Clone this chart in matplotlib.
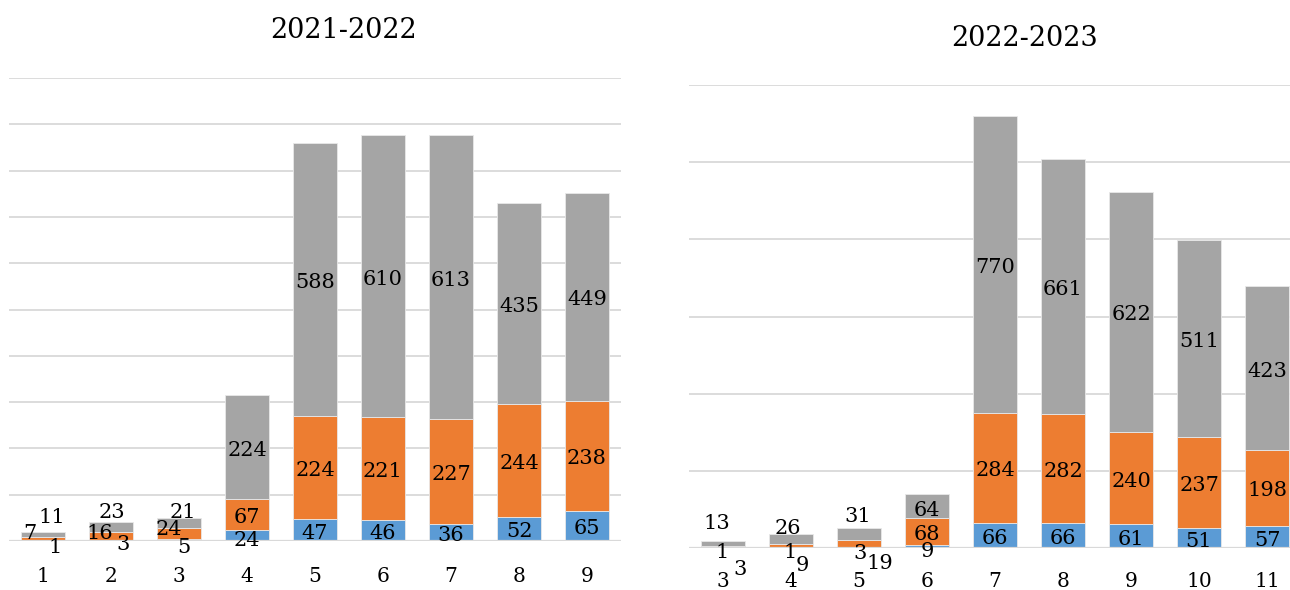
import matplotlib
matplotlib.use("Agg")
import matplotlib.pyplot as plt
import numpy as np

plt.rcParams['font.family'] = ['DejaVu Serif']

# ---- data ----
title_left = "2021-2022"
cats_left = ["1", "2", "3", "4", "5", "6", "7", "8", "9"]
blue_left = [1, 3, 5, 24, 47, 46, 36, 52, 65]
orange_left = [7, 16, 24, 67, 224, 221, 227, 244, 238]
gray_left = [11, 23, 21, 224, 588, 610, 613, 435, 449]

title_right = "2022-2023"
cats_right = ["3", "4", "5", "6", "7", "8", "9", "10", "11"]
blue_right = [1, 1, 3, 9, 66, 66, 61, 51, 57]
orange_right = [3, 9, 19, 68, 284, 282, 240, 237, 198]
gray_right = [13, 26, 31, 64, 770, 661, 622, 511, 423]

BLUE = "#5B9BD5"
ORANGE = "#ED7D31"
GRAY = "#A5A5A5"
GRID = "#D9D9D9"

W, H = 1290, 590
fig = plt.figure(figsize=(W / 100, H / 100), dpi=100)


def px_axes(x0, x1, y_top, y_bot):
    return fig.add_axes([x0 / W, (H - y_bot) / H, (x1 - x0) / W, (y_bot - y_top) / H])


# label offsets in pixels (dx, dy with dy positive = down) for crowded small bars
off_left = {
    (0, 0): (12, 4), (0, 1): (-13, -8), (0, 2): (9, -20),
    (1, 0): (12, 1), (1, 1): (-11, -5), (1, 2): (1, -17),
    (2, 0): (5, 5), (2, 1): (-10, -7), (2, 2): (4, -13),
    (3, 0): (0, 2),
}
off_right = {
    (0, 0): (-1, 2), (0, 1): (17, 19), (0, 2): (-6, -23),
    (1, 0): (-1, 2), (1, 1): (11, 17), (1, 2): (-3, -14),
    (2, 0): (1, 3), (2, 1): (21, 17), (2, 2): (-1, -20),
    (3, 0): (0, 2), (3, 1): (0, 0), (3, 2): (0, 2),
}
BASE_DY = 3


def draw(ax, cats, series, ymax, step, offsets, pad):
    x = np.arange(len(cats))
    bottom = np.zeros(len(cats))
    ax.set_xlim(-0.5, len(cats) - 0.5)
    ax.set_ylim(0, ymax)
    for k, (vals, col) in enumerate(zip(series, [BLUE, ORANGE, GRAY])):
        vals = np.array(vals, dtype=float)
        ax.bar(x, vals, bottom=bottom, width=0.65, color=col,
               edgecolor="#E8E8E8", linewidth=0.6, zorder=3)
        for i in range(len(cats)):
            dx, dy = offsets.get((i, k), (0, 0))
            ax.annotate(str(int(vals[i])), (x[i], bottom[i] + vals[i] / 2),
                        xytext=(dx, -(dy + BASE_DY)), textcoords="offset pixels",
                        ha="center", va="center", fontsize=15,
                        color="black", zorder=5, annotation_clip=False)
        bottom += vals
    ax.set_yticks(np.arange(0, ymax + step / 2, step))
    ax.yaxis.grid(True, color=GRID, linewidth=1.3, zorder=0)
    ax.set_axisbelow(True)
    for s in ax.spines.values():
        s.set_visible(False)
    ax.tick_params(axis="y", left=False, labelleft=False)
    ax.set_xticks(x)
    ax.set_xticklabels(cats, fontsize=14.5)
    ax.tick_params(axis="x", length=0, pad=pad)
    ax.axhline(0, color=GRID, linewidth=1.6, zorder=4)


axL = px_axes(9, 621, 78, 541)
draw(axL, cats_left, [blue_left, orange_left, gray_left], 1000, 100, off_left, 19)

axR = px_axes(689, 1301, 85, 548)
draw(axR, cats_right, [blue_right, orange_right, gray_right], 1200, 200, off_right, 17.5)

fig.text(343 / W, 1 - 30 / H, title_left, ha="center", va="center", fontsize=19.5)
fig.text(1025 / W, 1 - 38 / H, title_right, ha="center", va="center", fontsize=19.5)

fig.savefig("out.png", dpi=100, facecolor="white")
